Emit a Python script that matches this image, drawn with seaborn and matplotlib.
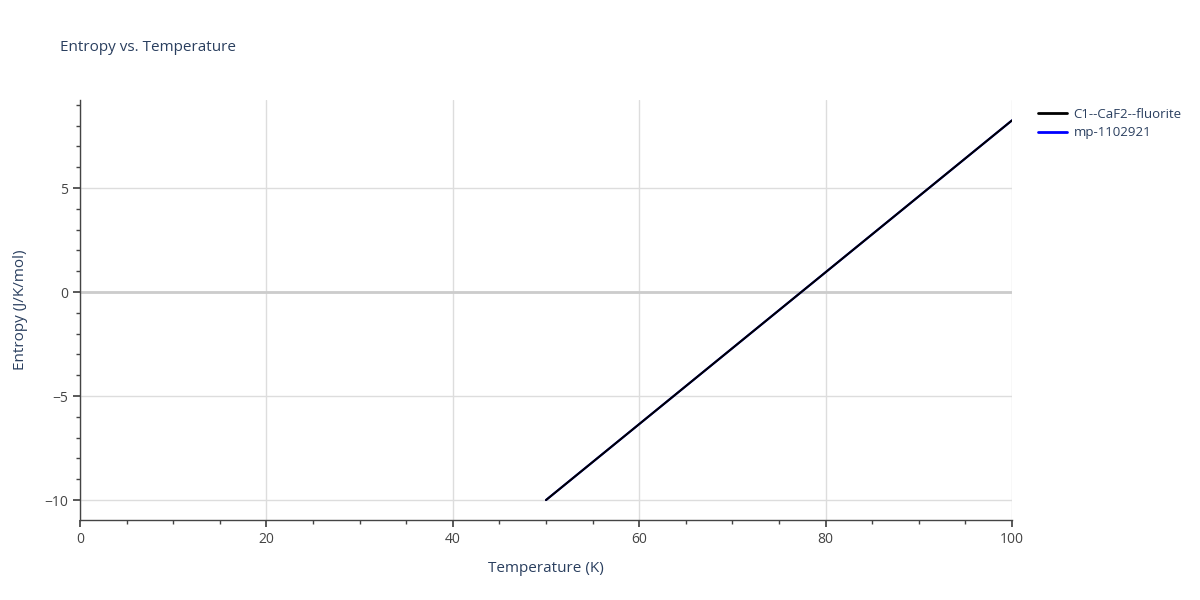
import matplotlib
matplotlib.use("Agg")
import matplotlib.pyplot as plt
import seaborn as sns
import pandas as pd
from matplotlib.ticker import MultipleLocator

temps = [50, 100]
entropy_fluorite = [-10.0, 8.25]
entropy_mp = [-10.0, 8.25]

sns.set_theme(style="white")
plt.rcParams['font.family'] = ['Open Sans', 'DejaVu Sans']

df = pd.concat([
    pd.DataFrame({"T": temps, "S": entropy_mp, "series": "mp-1102921"}),
    pd.DataFrame({"T": temps, "S": entropy_fluorite, "series": "C1--CaF2--fluorite"}),
])

fig = plt.figure(figsize=(12, 6), dpi=100)
ax = fig.add_axes([0.0667, 0.1333, 0.7766, 0.7])
sns.lineplot(data=df, x="T", y="S", hue="series",
             palette={"mp-1102921": "blue", "C1--CaF2--fluorite": "black"},
             hue_order=["mp-1102921", "C1--CaF2--fluorite"], lw=1.5, ax=ax, legend=False)

ax.set_xlim(0, 100)
ax.set_ylim(-10.96, 9.23)
ax.xaxis.set_major_locator(MultipleLocator(20))
ax.xaxis.set_minor_locator(MultipleLocator(5))
ax.yaxis.set_major_locator(MultipleLocator(5))
ax.yaxis.set_minor_locator(MultipleLocator(1))
ax.grid(True, which="major", color="#dddddd", lw=1)
ax.axhline(0, color="#cccccc", lw=2, zorder=1)
for s in ["top", "right"]:
    ax.spines[s].set_visible(False)
for s in ["left", "bottom"]:
    ax.spines[s].set_color("#444444")
    ax.spines[s].set_linewidth(1)
ax.tick_params(which="major", direction="out", length=5, color="#444444", labelcolor="#444444", labelsize=10, left=True, bottom=True)
ax.tick_params(which="minor", direction="out", length=3, color="#444444", left=True, bottom=True)
ax.set_yticklabels([f"{int(v)}".replace("-", "\u2212") for v in ax.get_yticks()])
ax.set_xlabel("Temperature (K)", color="#2a3f5f", fontsize=11, labelpad=10)
ax.set_ylabel("Entropy (J/K/mol)", color="#2a3f5f", fontsize=11, labelpad=12)
fig.text(0.05, 0.915, "Entropy vs. Temperature", color="#2a3f5f", fontsize=11)

from matplotlib.lines import Line2D
handles = [Line2D([], [], color="black", lw=2), Line2D([], [], color="blue", lw=2)]
fig.legend(handles, ["C1--CaF2--fluorite", "mp-1102921"], loc="upper left",
           bbox_to_anchor=(0.855, 0.84), frameon=False, fontsize=9.5,
           labelcolor="#2a3f5f", handlelength=2.2, handletextpad=0.5, labelspacing=0.4)
fig.savefig("out.png", dpi=100)
